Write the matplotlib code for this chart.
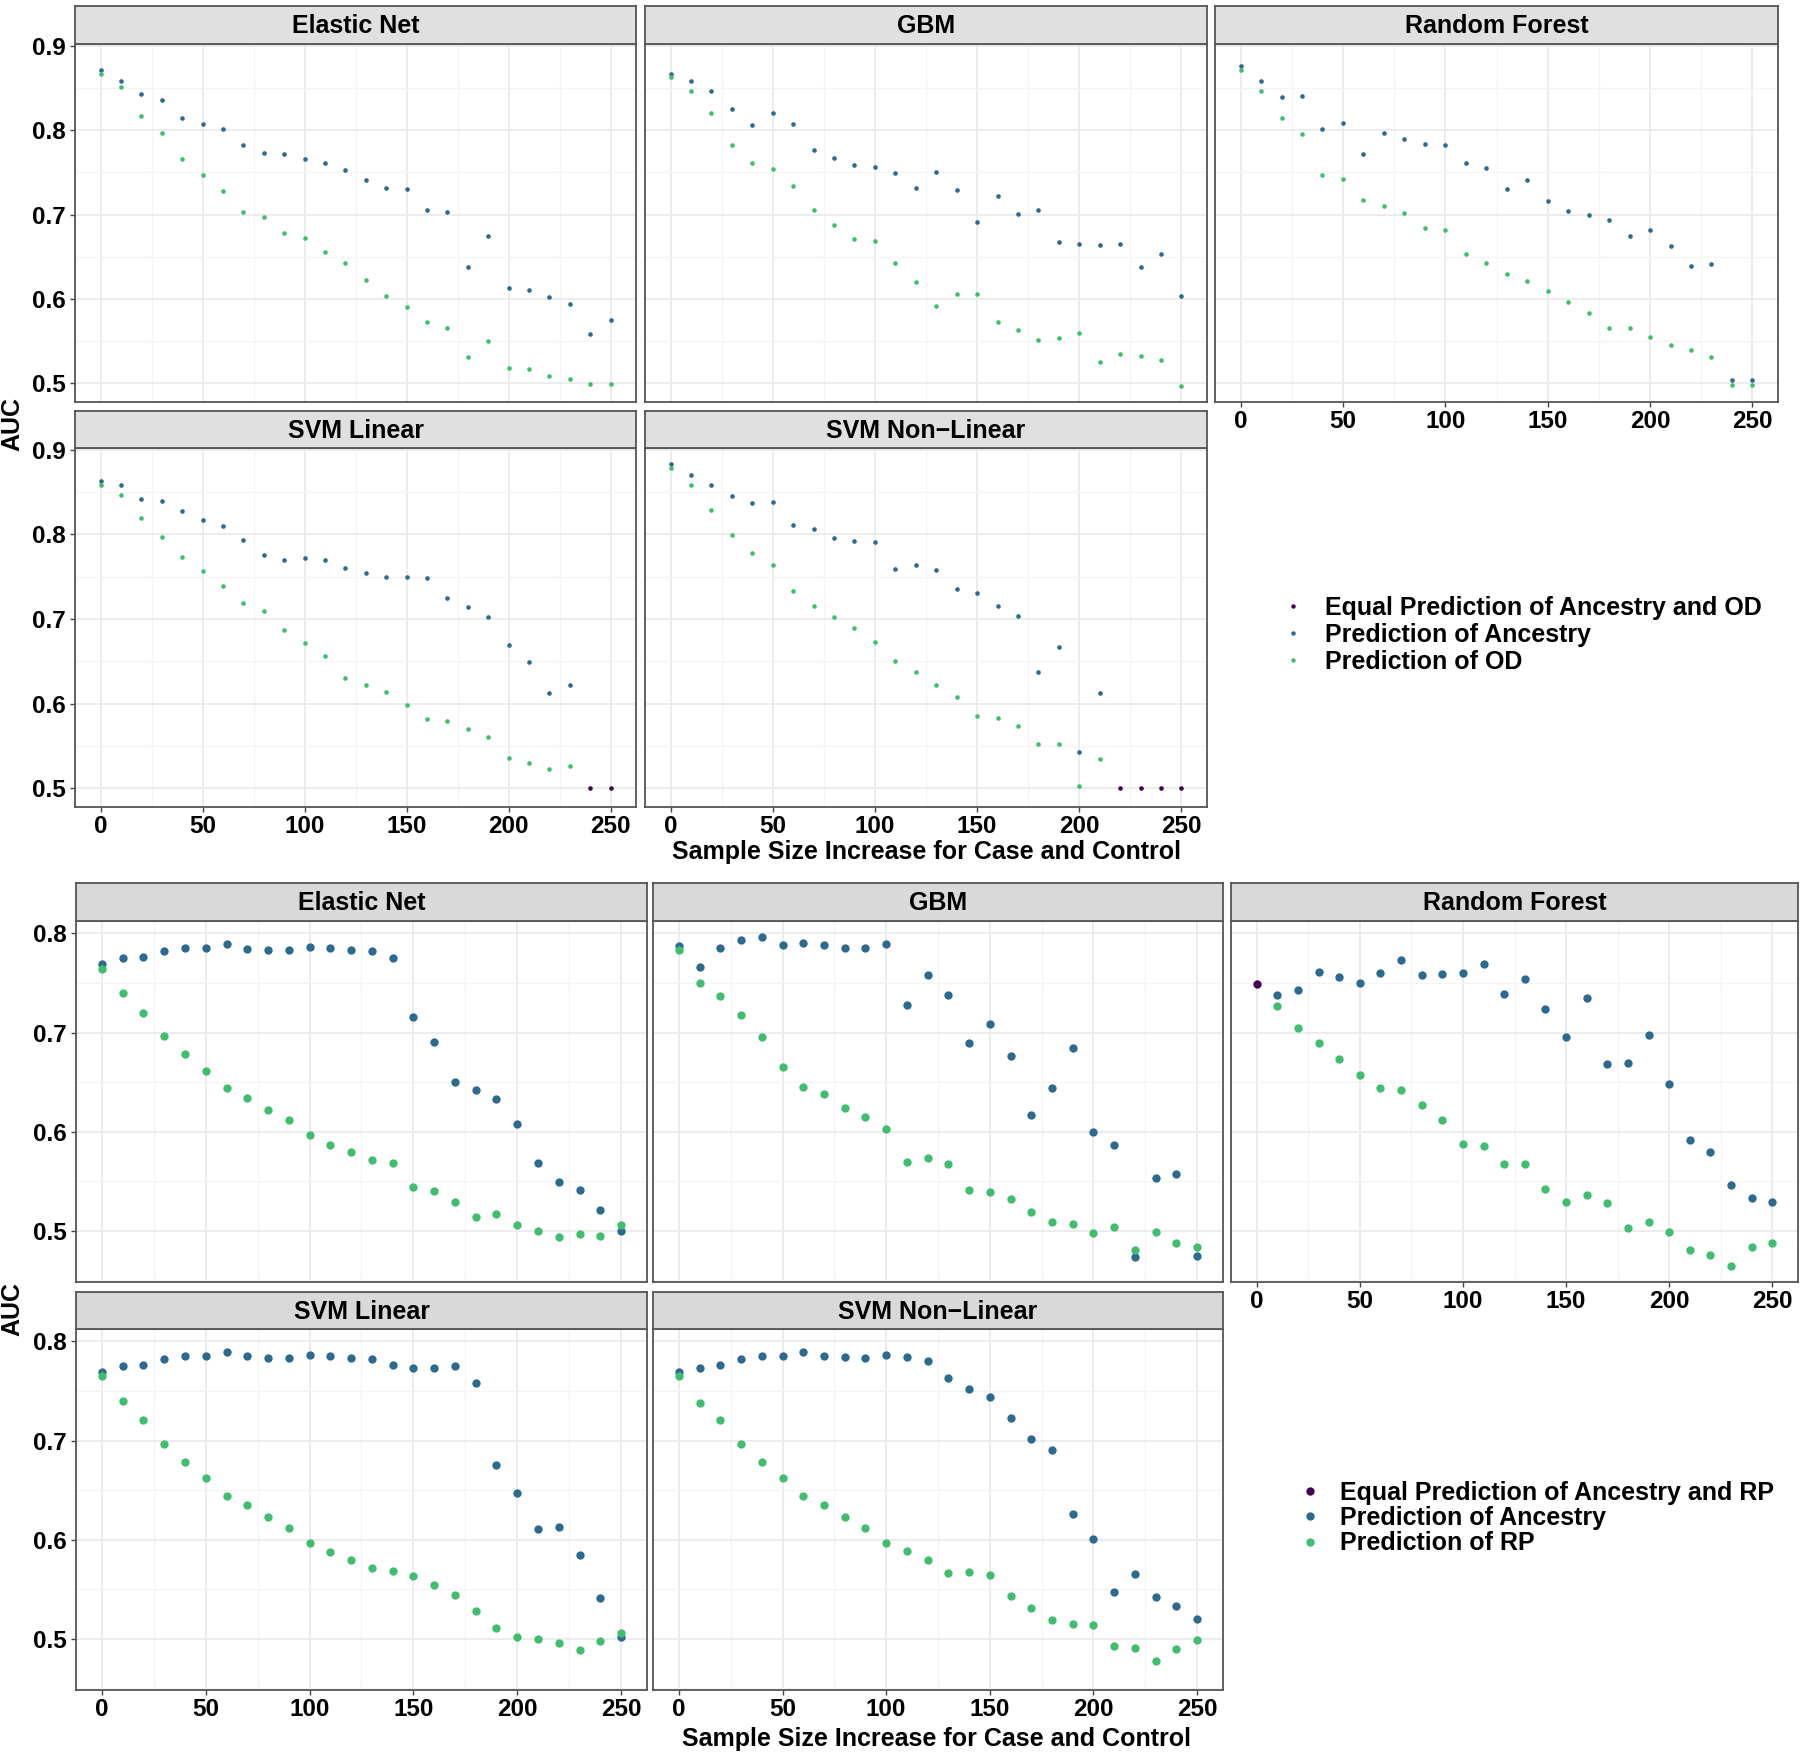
import matplotlib
matplotlib.use("Agg")
import matplotlib.pyplot as plt
from matplotlib.lines import Line2D
from matplotlib.ticker import MultipleLocator

plt.rcParams['font.family'] = ['Liberation Sans', 'DejaVu Sans']
plt.rcParams['font.weight'] = 'bold'

W, H = 1800, 1754

# sample size increase (x axis), shared by all panels
sizes = [0, 10, 20, 30, 40, 50, 60, 70, 80, 90, 100, 110, 120,
         130, 140, 150, 160, 170, 180, 190, 200, 210, 220, 230, 240, 250]

models = ["Elastic Net", "GBM", "Random Forest", "SVM Linear", "SVM Non\u2212Linear"]

# ---- top chart: ancestry vs OD ----
en_anc_od = [0.871, 0.858, 0.843, 0.836, 0.814, 0.807, 0.802, 0.782, 0.773, 0.772, 0.766, 0.761, 0.753,
             0.741, 0.731, 0.730, 0.706, 0.703, 0.638, 0.675, 0.613, 0.611, 0.602, 0.594, 0.558, 0.575]
en_od = [0.867, 0.851, 0.817, 0.797, 0.766, 0.747, 0.728, 0.703, 0.697, 0.678, 0.672, 0.656, 0.642,
         0.622, 0.603, 0.590, 0.572, 0.566, 0.531, 0.550, 0.518, 0.517, 0.509, 0.505, 0.499, 0.499]
gbm_anc_od = [0.867, 0.858, 0.847, 0.825, 0.806, 0.820, 0.808, 0.777, 0.767, 0.759, 0.757, 0.749, 0.731,
              0.750, 0.729, 0.691, 0.722, 0.701, 0.705, 0.668, 0.665, 0.664, 0.665, 0.638, 0.653, 0.603]
gbm_od = [0.863, 0.847, 0.821, 0.782, 0.761, 0.754, 0.734, 0.705, 0.688, 0.671, 0.669, 0.643, 0.620,
          0.592, 0.606, 0.606, 0.573, 0.563, 0.551, 0.554, 0.559, 0.525, 0.535, 0.532, 0.528, 0.497]
rf_anc_od = [0.876, 0.858, 0.840, 0.841, 0.802, 0.809, 0.772, 0.797, 0.790, 0.784, 0.782, 0.761, 0.755,
             0.730, 0.741, 0.716, 0.704, 0.699, 0.693, 0.675, 0.682, 0.663, 0.639, 0.641, 0.504, 0.504]
rf_od = [0.871, 0.847, 0.814, 0.795, 0.747, 0.742, 0.717, 0.710, 0.702, 0.684, 0.682, 0.653, 0.642,
         0.630, 0.621, 0.609, 0.596, 0.583, 0.565, 0.566, 0.555, 0.545, 0.539, 0.531, 0.498, 0.498]
svml_anc_od = [0.863, 0.859, 0.842, 0.840, 0.828, 0.817, 0.810, 0.794, 0.776, 0.770, 0.772, 0.770, 0.760,
               0.755, 0.750, 0.750, 0.748, 0.725, 0.714, 0.702, 0.669, 0.649, 0.613, 0.622, 0.500, 0.500]
svml_od = [0.859, 0.847, 0.819, 0.797, 0.773, 0.757, 0.739, 0.719, 0.709, 0.687, 0.672, 0.656, 0.630,
           0.622, 0.614, 0.598, 0.582, 0.580, 0.570, 0.561, 0.536, 0.530, 0.523, 0.526, 0.500, 0.500]
svmn_anc_od = [0.883, 0.870, 0.859, 0.846, 0.837, 0.838, 0.811, 0.807, 0.796, 0.792, 0.791, 0.759, 0.764,
               0.758, 0.736, 0.731, 0.715, 0.704, 0.637, 0.667, 0.543, 0.613, 0.500, 0.500, 0.500, 0.500]
svmn_od = [0.879, 0.859, 0.829, 0.799, 0.778, 0.764, 0.733, 0.716, 0.702, 0.689, 0.673, 0.650, 0.637,
           0.622, 0.608, 0.585, 0.583, 0.573, 0.552, 0.552, 0.503, 0.534, 0.500, 0.500, 0.500, 0.500]

# ---- bottom chart: ancestry vs RP ----
en_anc_rp = [0.769, 0.775, 0.776, 0.782, 0.785, 0.785, 0.789, 0.784, 0.783, 0.783, 0.786, 0.785, 0.783,
             0.782, 0.775, 0.716, 0.691, 0.650, 0.642, 0.633, 0.608, 0.568, 0.549, 0.541, 0.521, 0.500]
en_rp = [0.764, 0.740, 0.720, 0.697, 0.678, 0.661, 0.644, 0.634, 0.622, 0.612, 0.597, 0.587, 0.580,
         0.571, 0.568, 0.544, 0.540, 0.529, 0.514, 0.517, 0.506, 0.500, 0.494, 0.497, 0.495, 0.506]
gbm_anc_rp = [0.787, 0.766, 0.785, 0.793, 0.796, 0.788, 0.790, 0.788, 0.785, 0.785, 0.789, 0.728, 0.758,
              0.738, 0.690, 0.709, 0.676, 0.617, 0.644, 0.684, 0.600, 0.587, 0.474, 0.553, 0.557, 0.475]
gbm_rp = [0.783, 0.750, 0.737, 0.718, 0.696, 0.665, 0.645, 0.638, 0.624, 0.615, 0.603, 0.569, 0.574,
          0.567, 0.541, 0.539, 0.532, 0.519, 0.509, 0.507, 0.498, 0.504, 0.481, 0.499, 0.488, 0.484]
rf_anc_rp = [0.749, 0.738, 0.743, 0.761, 0.756, 0.750, 0.760, 0.773, 0.758, 0.759, 0.760, 0.769, 0.739,
             0.754, 0.724, 0.696, 0.735, 0.668, 0.669, 0.698, 0.648, 0.592, 0.580, 0.546, 0.533, 0.529]
rf_rp = [0.749, 0.727, 0.705, 0.689, 0.673, 0.657, 0.644, 0.642, 0.627, 0.612, 0.588, 0.586, 0.567,
         0.567, 0.542, 0.529, 0.536, 0.528, 0.503, 0.509, 0.499, 0.481, 0.476, 0.465, 0.484, 0.488]
svml_anc_rp = [0.769, 0.775, 0.776, 0.782, 0.785, 0.785, 0.789, 0.785, 0.783, 0.783, 0.786, 0.785, 0.783,
               0.782, 0.776, 0.773, 0.773, 0.775, 0.758, 0.675, 0.647, 0.611, 0.613, 0.585, 0.541, 0.502]
svml_rp = [0.765, 0.740, 0.721, 0.697, 0.678, 0.662, 0.644, 0.635, 0.623, 0.612, 0.597, 0.588, 0.580,
           0.572, 0.568, 0.563, 0.554, 0.544, 0.528, 0.511, 0.502, 0.500, 0.496, 0.489, 0.498, 0.506]
svmn_anc_rp = [0.769, 0.773, 0.776, 0.782, 0.785, 0.785, 0.789, 0.785, 0.784, 0.783, 0.786, 0.784, 0.780,
               0.763, 0.752, 0.744, 0.723, 0.702, 0.691, 0.626, 0.601, 0.547, 0.565, 0.542, 0.533, 0.520]
svmn_rp = [0.765, 0.738, 0.721, 0.697, 0.678, 0.662, 0.644, 0.635, 0.623, 0.612, 0.597, 0.589, 0.580,
           0.566, 0.567, 0.564, 0.543, 0.531, 0.519, 0.515, 0.514, 0.493, 0.491, 0.478, 0.490, 0.499]

top_anc = [en_anc_od, gbm_anc_od, rf_anc_od, svml_anc_od, svmn_anc_od]
top_out = [en_od, gbm_od, rf_od, svml_od, svmn_od]
bot_anc = [en_anc_rp, gbm_anc_rp, rf_anc_rp, svml_anc_rp, svmn_anc_rp]
bot_out = [en_rp, gbm_rp, rf_rp, svml_rp, svmn_rp]

c_equal = "#440154"
c_anc = "#2C6A8E"
c_out = "#3FBE6F"

TICK_FS = 17.5
TXT_FS = 18


def rect(x0, y0, x1, y1):
    # pixel box -> figure fraction
    return [x0 / W, 1 - y1 / H, (x1 - x0) / W, (y1 - y0) / H]


def draw_block(cols, rows, anc_list, out_list, msize, strip_fill, yticks):
    first = None
    for i, model in enumerate(models):
        r, c = divmod(i, 3)
        x0, x1 = cols[c]
        (s0, s1), (p0, p1) = rows[r]
        ax = fig.add_axes(rect(x0, p0, x1, p1), sharex=first, sharey=first)
        if first is None:
            first = ax
        anc, out = anc_list[i], out_list[i]
        eq_x = [x for x, a, o in zip(sizes, anc, out) if a == o]
        eq_y = [a for a, o in zip(anc, out) if a == o]
        an_x = [x for x, a, o in zip(sizes, anc, out) if a != o]
        an_y = [a for a, o in zip(anc, out) if a != o]
        ou_y = [o for a, o in zip(anc, out) if a != o]
        ax.scatter(an_x, an_y, s=msize, color=c_anc, linewidths=0, zorder=3)
        ax.scatter(an_x, ou_y, s=msize, color=c_out, linewidths=0, zorder=4)
        ax.scatter(eq_x, eq_y, s=msize, color=c_equal, linewidths=0, zorder=5)

        ax.set_xticks([0, 50, 100, 150, 200, 250])
        ax.xaxis.set_minor_locator(MultipleLocator(25))
        ax.set_yticks(yticks)
        ax.yaxis.set_minor_locator(MultipleLocator(0.05))
        ax.grid(True, which='major', color='#EBEBEB', lw=1.3, zorder=0)
        ax.grid(True, which='minor', color='#F4F4F4', lw=0.9, zorder=0)
        ax.set_axisbelow(True)
        for sp in ax.spines.values():
            sp.set_color('#555555')
            sp.set_linewidth(1.3)
        ax.tick_params(which='minor', length=0)
        ax.tick_params(which='major', length=3.5, width=1.0, color='#444444',
                       labelsize=TICK_FS, pad=3)
        ax.tick_params(axis='x', pad=2)
        for lab in ax.get_xticklabels() + ax.get_yticklabels():
            lab.set_fontweight('bold')
        # outer axes only, like facet_wrap
        if c != 0:
            ax.tick_params(axis='y', left=False, labelleft=False)
        if not ((r == 1) or (c == 2)):
            ax.tick_params(axis='x', bottom=False, labelbottom=False)

        sax = fig.add_axes(rect(x0, s0, x1, s1))
        sax.set_facecolor(strip_fill)
        sax.set_xticks([])
        sax.set_yticks([])
        for sp in sax.spines.values():
            sp.set_color('#555555')
            sp.set_linewidth(1.3)
        sax.text(0.5, 0.47, model, ha='center', va='center', fontsize=TXT_FS,
                 fontweight='bold', transform=sax.transAxes)
    first.margins(x=0.05, y=0.05)


fig = plt.figure(figsize=(W / 100, H / 100), dpi=100)

# top chart
draw_block(cols=[(75, 636), (645, 1207), (1215, 1778)],
           rows=[((6, 44), (44, 402)), ((411, 448), (448, 807))],
           anc_list=top_anc, out_list=top_out, msize=11, strip_fill='#E0E0E0',
           yticks=[0.5, 0.6, 0.7, 0.8, 0.9])
fig.text(12 / W, 1 - 424 / H, "AUC", rotation=90, ha='center', va='center',
         fontsize=TXT_FS, fontweight='bold')
fig.text(926 / W, 1 - 852 / H, "Sample Size Increase for Case and Control",
         ha='center', va='center', fontsize=TXT_FS, fontweight='bold')
top_handles = [Line2D([], [], ls='none', marker='o', ms=3.2, mew=0, color=c)
               for c in (c_equal, c_anc, c_out)]
fig.legend(top_handles, ["Equal Prediction of Ancestry and OD", "Prediction of Ancestry",
                         "Prediction of OD"],
           loc='center left', bbox_to_anchor=(1285 / W, 1 - 635 / H), frameon=False,
           prop={'size': TXT_FS, 'weight': 'bold'}, handlelength=0.65, handletextpad=0.95,
           labelspacing=0.12, borderpad=0, borderaxespad=0)

# bottom chart
draw_block(cols=[(76, 647), (653, 1223), (1231, 1798)],
           rows=[((883, 921), (921, 1282)), ((1292, 1329), (1329, 1690))],
           anc_list=bot_anc, out_list=bot_out, msize=36, strip_fill='#D9D9D9',
           yticks=[0.5, 0.6, 0.7, 0.8])
fig.text(12 / W, 1 - 1309 / H, "AUC", rotation=90, ha='center', va='center',
         fontsize=TXT_FS, fontweight='bold')
fig.text(937 / W, 1 - 1739 / H, "Sample Size Increase for Case and Control",
         ha='center', va='center', fontsize=TXT_FS, fontweight='bold')
bot_handles = [Line2D([], [], ls='none', marker='o', ms=6.0, mew=0, color=c)
               for c in (c_equal, c_anc, c_out)]
fig.legend(bot_handles, ["Equal Prediction of Ancestry and RP", "Prediction of Ancestry",
                         "Prediction of RP"],
           loc='center left', bbox_to_anchor=(1302 / W, 1 - 1518 / H), frameon=False,
           prop={'size': TXT_FS, 'weight': 'bold'}, handlelength=0.65, handletextpad=0.85,
           labelspacing=0.05, borderpad=0, borderaxespad=0)

fig.savefig("out.png", dpi=100, facecolor='white')
